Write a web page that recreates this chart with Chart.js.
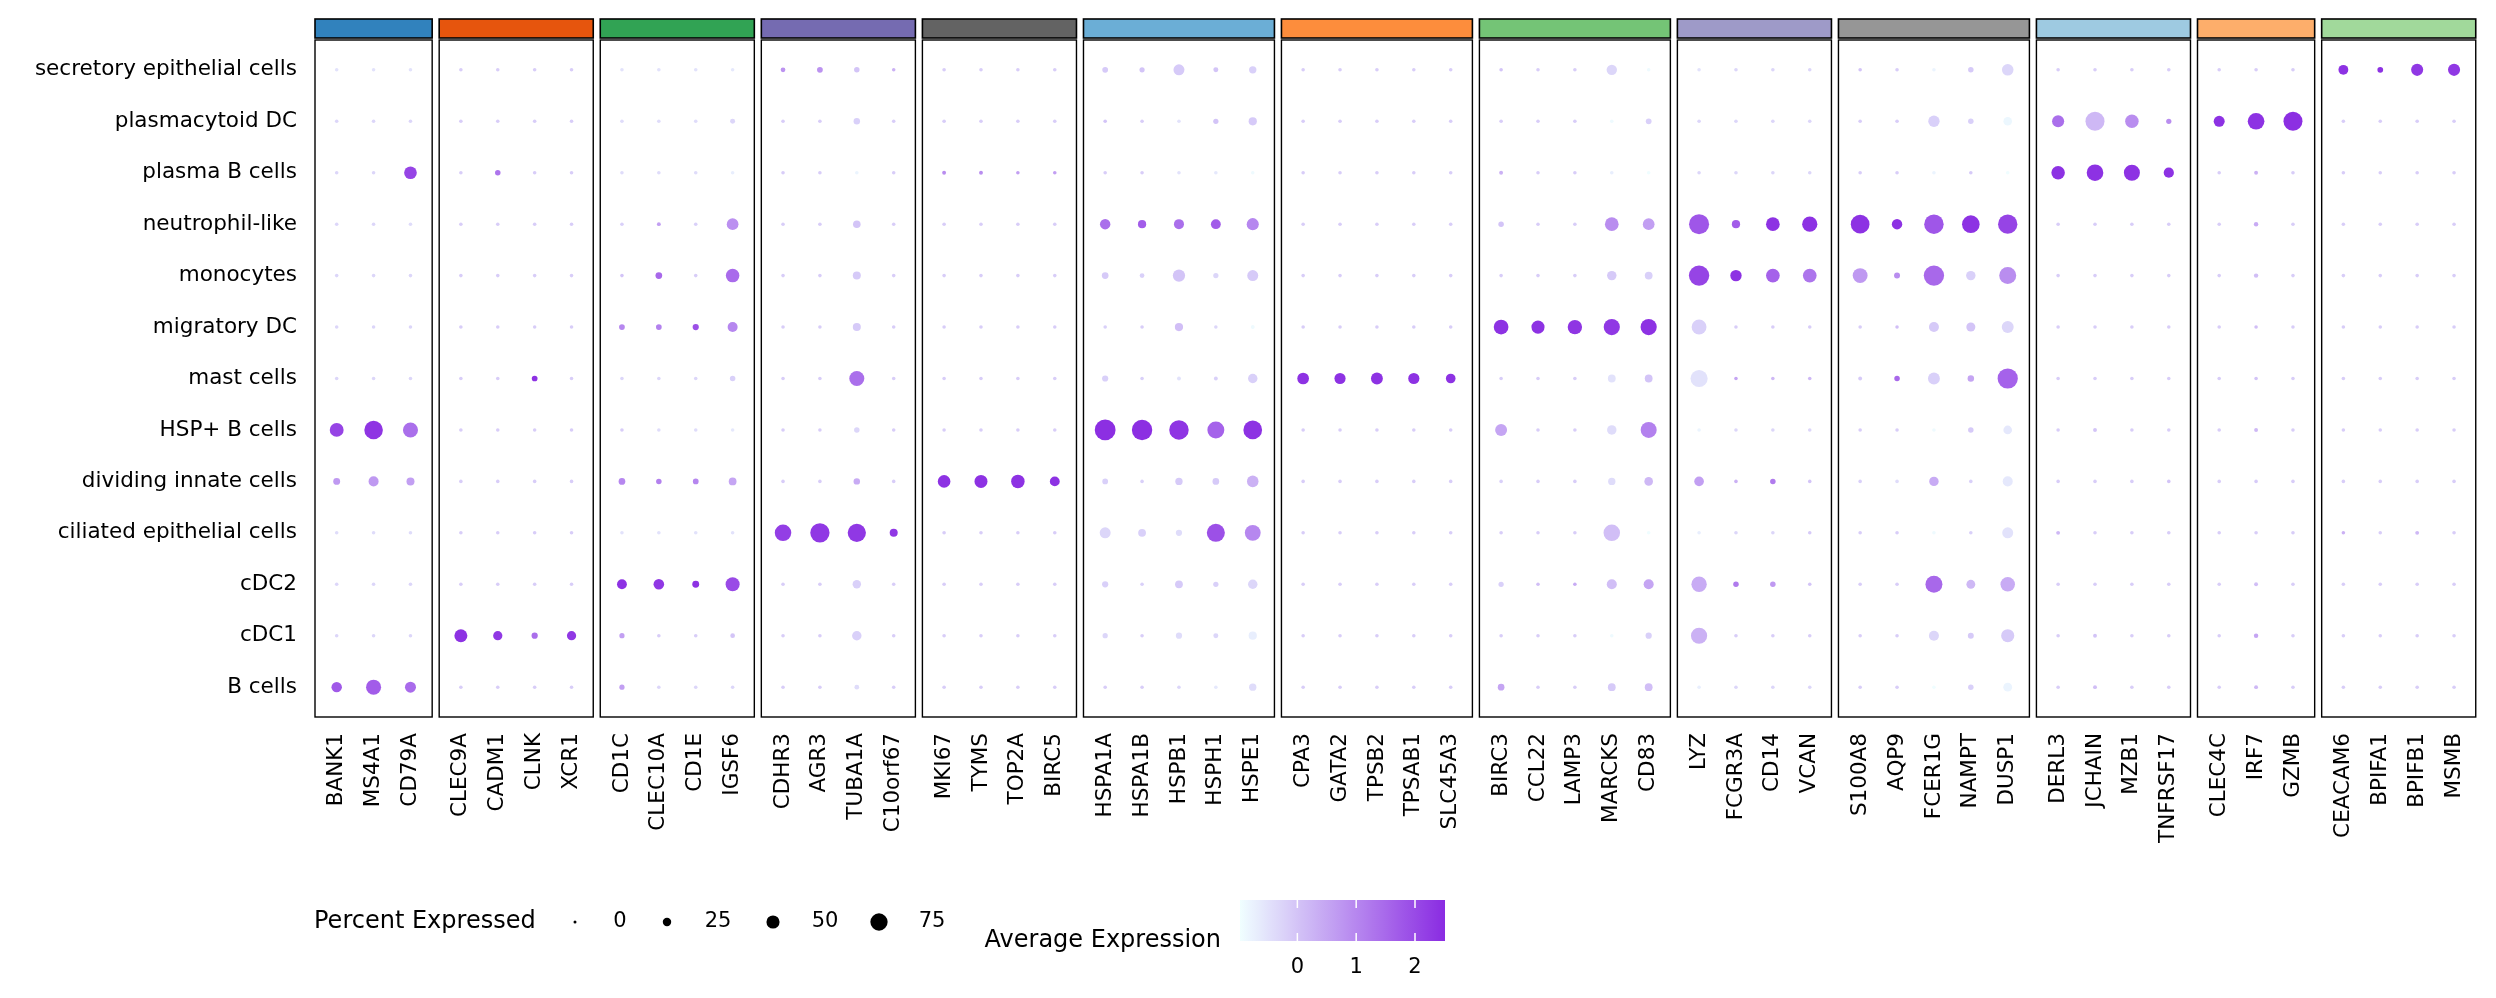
<!DOCTYPE html>
<html>
<head>
<meta charset="utf-8">
<script src="https://cdn.jsdelivr.net/npm/chart.js@4"></script>
<style>
  html, body { margin: 0; padding: 0; background: #fff; }
  #wrap { width: 2496px; height: 998px; }
</style>
</head>
<body>
<div id="wrap"><canvas id="dotplot" width="2496" height="998"></canvas></div>
<script>
// rows, bottom to top
var cellTypes = ["B cells", "cDC1", "cDC2", "ciliated epithelial cells", "dividing innate cells",
  "HSP+ B cells", "mast cells", "migratory DC", "monocytes", "neutrophil-like",
  "plasma B cells", "plasmacytoid DC", "secretory epithelial cells"];

var genes = ["BANK1", "MS4A1", "CD79A",
  "CLEC9A", "CADM1", "CLNK", "XCR1",
  "CD1C", "CLEC10A", "CD1E", "IGSF6",
  "CDHR3", "AGR3", "TUBA1A", "C10orf67",
  "MKI67", "TYMS", "TOP2A", "BIRC5",
  "HSPA1A", "HSPA1B", "HSPB1", "HSPH1", "HSPE1",
  "CPA3", "GATA2", "TPSB2", "TPSAB1", "SLC45A3",
  "BIRC3", "CCL22", "LAMP3", "MARCKS", "CD83",
  "LYZ", "FCGR3A", "CD14", "VCAN",
  "S100A8", "AQP9", "FCER1G", "NAMPT", "DUSP1",
  "DERL3", "JCHAIN", "MZB1", "TNFRSF17",
  "CLEC4C", "IRF7", "GZMB",
  "CEACAM6", "BPIFA1", "BPIFB1", "MSMB"];

var panelSizes = [3, 4, 4, 4, 4, 5, 5, 5, 4, 5, 4, 3, 4];
var panelColors = ["#3182bd", "#e6550d", "#31a354", "#756bb1", "#636363", "#6baed6", "#fd8d3c",
  "#74c476", "#9e9ac8", "#969696", "#9ecae1", "#fdae6b", "#a1d99b"];

// percent expressed, one array per cell type (gene order as above)
var pctBcells    = [35,61,38, 5,5,5,5, 11,5,5,5, 5,5,9,5, 5,5,5,5, 5,5,5,5,20, 5,5,5,5,5, 17,5,5,22,22, 5,5,5,5, 5,5,5,12,27, 5,6,5,5, 5,6,5, 5,5,5,5];
var pctCDC1      = [5,5,5, 49,29,15,29, 11,5,5,9, 5,5,30,5, 5,5,5,5, 11,5,15,10,24, 5,5,5,5,5, 5,5,5,5,15, 68,5,5,5, 5,5,33,14,50, 5,6,5,5, 5,8,5, 5,5,5,5];
var pctCDC2      = [5,5,5, 5,5,5,5, 32,36,18,55, 5,5,25,5, 5,5,5,5, 15,5,22,11,30, 5,5,5,5,5, 11,5,5,33,33, 63,12,12,5, 5,5,73,27,58, 5,5,5,5, 5,6,5, 5,5,5,5];
var pctCiliated  = [5,5,5, 5,5,5,5, 5,5,5,5, 70,88,81,23, 5,5,5,5, 38,22,15,80,66, 5,5,5,5,5, 5,5,5,70,5, 5,5,5,5, 5,5,5,5,38, 6,5,5,5, 5,5,5, 5,5,6,5];
var pctDividing  = [18,33,23, 5,5,5,5, 17,12,13,22, 5,5,16,5, 47,49,52,32, 13,5,20,17,41, 5,5,5,5,5, 5,5,5,20,26, 31,5,12,5, 5,5,30,5,33, 5,5,5,5, 5,5,5, 5,5,5,5];
var pctHSPB      = [54,83,61, 5,5,5,5, 5,5,5,5, 5,5,12,5, 5,5,5,5, 98,95,89,73,84, 5,5,5,5,5, 43,5,5,30,67, 5,5,5,5, 5,5,5,12,26, 5,6,5,5, 5,6,5, 5,5,5,5];
var pctMast      = [5,5,5, 5,5,13,5, 5,5,5,12, 5,5,61,5, 5,5,5,5, 15,5,6,6,30, 42,39,43,39,31, 5,5,5,22,22, 74,5,5,5, 6,12,43,16,94, 5,5,5,5, 5,5,5, 5,5,5,5];
var pctMigDC     = [5,5,5, 5,5,5,5, 13,13,15,33, 5,5,23,5, 5,5,5,5, 5,5,24,5,6, 5,5,5,5,5, 59,50,57,68,68, 60,5,5,5, 5,5,33,28,43, 5,5,5,5, 5,5,5, 5,5,5,5];
var pctMono      = [5,5,5, 5,5,5,5, 5,17,5,52, 5,5,23,5, 5,5,5,5, 17,9,45,11,38, 5,5,5,5,5, 5,5,5,30,22, 95,40,53,53, 60,14,95,30,73, 5,5,5,5, 5,8,5, 5,5,5,5];
var pctNeutro    = [5,5,5, 5,5,5,5, 5,6,5,42, 5,5,21,5, 5,5,5,5, 35,24,33,32,44, 5,5,5,5,5, 12,5,5,53,42, 93,24,53,62, 84,35,89,77,88, 5,5,5,5, 5,8,5, 5,5,5,5];
var pctPlasmaB   = [5,5,47, 5,12,5,5, 5,5,5,5, 5,5,5,5, 6,6,5,5, 5,5,5,5,5, 5,5,5,5,5, 6,5,5,5,5, 5,5,5,5, 5,5,5,5,5, 52,71,67,34, 5,6,5, 5,5,5,5];
var pctPDC       = [5,5,5, 5,5,5,5, 5,5,5,10, 5,5,16,5, 5,5,5,5, 5,5,5,11,24, 5,5,5,5,5, 5,5,5,5,13, 5,5,5,5, 5,5,40,12,26, 44,86,52,11, 38,71,86, 5,5,5,5];
var pctSecretory = [5,5,5, 5,5,5,5, 5,5,5,5, 9,13,12,5, 5,5,5,5, 13,11,38,10,20, 5,5,5,5,5, 5,5,5,35,5, 5,5,5,5, 5,5,5,12,41, 5,5,5,5, 5,5,5, 32,13,44,44];

// average expression (scaled), one array per cell type
var avgBcells    = [1.75,1.7,1.45, -0.15,-0.15,-0.15,-0.15, 0.6,-0.3,-0.3,-0.3, -0.15,-0.15,-0.4,-0.15, -0.15,-0.15,-0.15,-0.15, -0.15,-0.15,-0.3,-0.6,-0.4, -0.15,-0.15,-0.15,-0.15,-0.15, 0.5,-0.15,-0.15,-0.1,0.1, -0.7,-0.3,-0.3,-0.3, -0.15,-0.15,-0.95,-0.2,-0.8, -0.15,0.1,-0.15,-0.15, -0.15,0.2,-0.15, -0.15,-0.15,-0.15,-0.15];
var avgCDC1      = [-0.3,-0.3,-0.3, 2.4,2.3,1.4,2.3, 0.6,-0.15,-0.15,0.0, -0.15,-0.15,-0.2,-0.15, -0.15,-0.15,-0.15,-0.15, -0.3,-0.15,-0.4,-0.3,-0.7, -0.15,-0.15,-0.15,-0.15,-0.15, -0.15,-0.15,-0.15,-0.9,-0.2, 0.3,-0.15,-0.15,-0.15, -0.15,-0.15,-0.3,-0.1,-0.1, -0.15,0.0,-0.15,-0.15, -0.15,0.5,-0.15, -0.15,-0.15,-0.15,-0.15];
var avgCDC2      = [-0.3,-0.3,-0.3, -0.15,-0.15,-0.15,-0.15, 2.4,2.3,2.4,2.0, -0.15,-0.15,-0.2,-0.15, -0.15,-0.15,-0.15,-0.15, -0.2,-0.2,-0.1,-0.2,-0.3, -0.15,-0.15,-0.15,-0.15,-0.15, -0.2,0.1,0.4,0.1,0.5, 0.4,1.2,0.7,0.0, -0.15,-0.15,1.5,0.2,0.4, -0.15,-0.15,-0.15,-0.15, -0.15,0.1,-0.15, -0.15,-0.15,-0.15,-0.15];
var avgCiliated  = [-0.4,-0.4,-0.4, -0.15,-0.15,-0.15,-0.15, -0.5,-0.5,-0.5,-0.5, 2.2,2.3,2.3,2.3, -0.15,-0.15,-0.15,-0.15, -0.3,-0.2,-0.4,1.9,1.0, -0.15,-0.15,-0.15,-0.15,-0.15, -0.15,-0.15,-0.15,0.1,-0.95, -0.7,-0.3,-0.3,-0.1, -0.15,-0.15,-0.9,-0.2,-0.5, 0.2,-0.15,-0.15,-0.15, -0.15,-0.15,-0.15, 0.3,-0.15,0.2,-0.15];
var avgDividing  = [0.7,0.7,0.6, -0.15,-0.15,-0.15,-0.15, 1.0,1.1,1.0,0.5, -0.15,-0.15,0.4,-0.15, 2.4,2.4,2.4,2.4, -0.2,-0.2,-0.1,-0.1,0.3, -0.15,-0.15,-0.15,-0.15,-0.15, -0.2,-0.15,-0.15,-0.4,0.2, 0.6,0.3,1.2,0.0, -0.2,-0.4,0.4,-0.2,-0.6, -0.15,-0.15,-0.15,0.0, -0.15,-0.1,-0.15, -0.15,-0.15,-0.15,-0.15];
var avgHSPB      = [2.1,2.35,1.4, -0.15,-0.15,-0.15,-0.15, -0.15,-0.4,-0.4,-0.6, -0.15,-0.15,-0.3,-0.15, -0.15,-0.15,-0.15,-0.15, 2.45,2.45,2.35,1.6,2.4, -0.15,-0.15,-0.15,-0.15,-0.15, 0.5,-0.15,-0.15,-0.4,1.1, -0.8,-0.3,-0.3,-0.3, -0.15,-0.15,-0.9,-0.1,-0.6, -0.15,0.0,-0.15,-0.15, -0.15,0.2,-0.15, -0.15,-0.15,-0.15,-0.15];
var avgMast      = [-0.3,-0.3,-0.3, -0.15,-0.15,2.4,-0.15, -0.3,-0.3,-0.3,-0.2, -0.15,-0.15,1.4,-0.15, -0.15,-0.15,-0.15,-0.15, -0.2,-0.2,-0.5,-0.2,-0.2, 2.4,2.4,2.4,2.4,2.4, -0.15,-0.15,-0.15,-0.5,0.0, -0.5,0.5,0.2,0.2, -0.1,1.5,-0.2,0.5,1.6, -0.15,-0.15,-0.15,-0.15, -0.15,0.0,-0.15, -0.15,-0.15,-0.15,-0.15];
var avgMigDC     = [-0.3,-0.3,-0.3, -0.15,-0.15,-0.15,-0.15, 1.0,1.1,1.9,1.0, -0.15,-0.15,-0.1,-0.15, -0.15,-0.15,-0.15,-0.15, -0.2,-0.15,0.1,-0.3,-0.9, -0.15,-0.15,-0.15,-0.15,-0.15, 2.4,2.4,2.35,2.3,2.4, -0.2,-0.15,-0.15,-0.15, -0.15,0.1,-0.1,0.0,-0.3, -0.15,-0.15,-0.15,-0.15, -0.15,0.1,-0.15, -0.15,-0.15,-0.15,-0.15];
var avgMono      = [-0.3,-0.3,-0.3, -0.15,-0.15,-0.15,-0.15, 0.0,1.5,-0.15,1.45, -0.15,-0.15,-0.1,-0.15, -0.15,-0.15,-0.15,-0.15, -0.1,-0.2,0.0,-0.3,-0.1, -0.15,-0.15,-0.15,-0.15,-0.15, -0.15,-0.15,-0.15,-0.1,-0.2, 2.1,2.4,1.6,1.3, 0.7,0.9,1.5,-0.2,0.9, -0.15,-0.15,-0.15,-0.15, -0.15,0.1,-0.15, -0.15,-0.15,-0.15,-0.15];
var avgNeutro    = [-0.3,-0.3,-0.4, -0.15,-0.15,-0.15,-0.15, -0.2,0.6,-0.2,0.85, -0.15,-0.15,0.0,-0.15, -0.15,-0.15,-0.15,-0.15, 1.4,1.7,1.4,1.7,1.0, -0.15,-0.15,-0.15,-0.15,-0.15, 0.0,-0.15,-0.15,0.9,0.6, 1.8,1.7,2.4,2.4, 2.4,2.4,1.8,2.4,2.1, -0.15,-0.15,-0.15,-0.15, -0.15,0.4,-0.15, -0.15,-0.15,-0.15,-0.15];
var avgPlasmaB   = [-0.3,-0.3,2.1, -0.15,1.3,-0.15,-0.15, -0.4,-0.4,-0.4,-0.7, -0.15,-0.15,-0.8,-0.15, 0.9,0.9,0.6,0.6, -0.15,-0.15,-0.5,-0.6,-0.9, -0.15,-0.15,-0.15,-0.15,-0.15, 0.3,-0.15,-0.15,-0.7,-0.95, -0.3,-0.3,-0.3,-0.3, -0.15,-0.15,-0.8,-0.1,-0.95, 2.4,2.4,2.4,2.4, -0.15,0.3,-0.15, -0.15,-0.15,-0.15,-0.15];
var avgPDC       = [-0.3,-0.3,-0.3, -0.15,-0.15,-0.15,-0.15, -0.4,-0.4,-0.4,-0.3, -0.15,-0.15,-0.2,-0.15, -0.15,-0.15,-0.15,-0.15, 0.0,-0.15,-0.5,0.0,-0.1, -0.15,-0.15,-0.15,-0.15,-0.15, -0.15,-0.15,-0.15,-0.9,-0.2, -0.3,-0.3,-0.3,-0.3, -0.15,-0.15,-0.2,-0.2,-0.85, 1.4,0.2,0.9,0.9, 2.4,2.4,2.45, -0.15,-0.15,-0.15,-0.15];
var avgSecretory = [-0.5,-0.5,-0.5, -0.15,-0.15,-0.15,-0.15, -0.5,-0.5,-0.5,-0.6, 0.8,0.8,0.0,0.3, -0.15,-0.15,-0.15,-0.15, -0.1,0.0,-0.1,0.0,-0.2, -0.15,-0.15,-0.15,-0.15,-0.15, 0.0,-0.15,-0.15,-0.3,-0.9, -0.5,-0.3,-0.3,-0.3, 0.0,-0.15,-0.8,-0.1,-0.3, -0.15,-0.15,-0.15,-0.15, -0.15,-0.15,-0.15, 2.4,2.4,2.3,2.3];

var pctRows = [pctBcells, pctCDC1, pctCDC2, pctCiliated, pctDividing, pctHSPB, pctMast,
  pctMigDC, pctMono, pctNeutro, pctPlasmaB, pctPDC, pctSecretory];
var avgRows = [avgBcells, avgCDC1, avgCDC2, avgCiliated, avgDividing, avgHSPB, avgMast,
  avgMigDC, avgMono, avgNeutro, avgPlasmaB, avgPDC, avgSecretory];

var sizeLegendValues = [0, 25, 50, 75];
var colorTicks = [0, 1, 2];
var vMin = -0.975, vMax = 2.51;

var FONT = '"DejaVu Sans", "Liberation Sans", sans-serif';
var AXIS_FONT = 21.5;

// x positions of genes, with a small gap between groups
var PAD = 0.088, GAP = 0.19;
var genePos = [];
var panelSpans = [];
var cur = 0;
panelSizes.forEach(function (n) {
  var first = cur;
  for (var i = 0; i < n; i++) { genePos.push(cur); cur += 1; }
  panelSpans.push([first - 0.5 - PAD, cur - 1 + 0.5 + PAD]);
  cur += 2 * PAD + GAP;
});

function exprColor(v) {
  var t = (v - vMin) / (vMax - vMin);
  t = Math.max(0, Math.min(1, t));
  var c0 = [240, 255, 255], c1 = [138, 43, 226];
  var r = Math.round(c0[0] + (c1[0] - c0[0]) * t);
  var g = Math.round(c0[1] + (c1[1] - c0[1]) * t);
  var b = Math.round(c0[2] + (c1[2] - c0[2]) * t);
  return 'rgb(' + r + ',' + g + ',' + b + ')';
}

function dotRadius(p) {
  return 0.75 + 0.31 * Math.pow(p, 0.75);
}

var points = [];
for (var r = 0; r < cellTypes.length; r++) {
  for (var g = 0; g < genes.length; g++) {
    points.push({ x: genePos[g], y: r, pct: pctRows[r][g], avg: avgRows[r][g] });
  }
}

var panelPlugin = {
  id: 'panels',
  beforeDatasetsDraw: function (chart) {
    var c = chart.ctx, xs = chart.scales.x, area = chart.chartArea;
    c.save();
    panelSpans.forEach(function (sp, k) {
      var x0 = xs.getPixelForValue(sp[0]), x1 = xs.getPixelForValue(sp[1]);
      // group colour bar
      c.fillStyle = panelColors[k];
      c.fillRect(x0, area.top - 21, x1 - x0, 19);
      c.strokeStyle = '#000';
      c.lineWidth = 1.6;
      c.strokeRect(x0, area.top - 21, x1 - x0, 19);
      // frame
      c.lineWidth = 1.4;
      c.strokeRect(x0, area.top, x1 - x0, area.bottom - area.top);
    });
    c.restore();
  },
  afterDraw: function (chart) {
    var c = chart.ctx;
    c.save();
    c.fillStyle = '#000';
    c.textBaseline = 'middle';

    // size legend
    var ly = 922;
    c.font = '24px ' + FONT;
    c.textAlign = 'left';
    c.fillText('Percent Expressed', 314, ly);
    var dotX = [575, 667, 773, 879];
    var labX = [620, 718, 825, 932];
    c.font = '21px ' + FONT;
    sizeLegendValues.forEach(function (v, i) {
      c.beginPath();
      c.arc(dotX[i], ly, Math.max(1.5, dotRadius(v)), 0, Math.PI * 2);
      c.fill();
      c.textAlign = 'center';
      c.fillText(String(v), labX[i], ly);
    });

    // colour bar
    var bx0 = 1240, bx1 = 1445, by0 = 900, by1 = 941;
    var grad = c.createLinearGradient(bx0, 0, bx1, 0);
    for (var s = 0; s <= 20; s++) {
      grad.addColorStop(s / 20, exprColor(vMin + (vMax - vMin) * s / 20));
    }
    c.fillStyle = grad;
    c.fillRect(bx0, by0, bx1 - bx0, by1 - by0);
    c.strokeStyle = '#fff';
    c.lineWidth = 1.5;
    c.fillStyle = '#000';
    colorTicks.forEach(function (v) {
      var tx = bx0 + (v - vMin) / (vMax - vMin) * (bx1 - bx0);
      c.beginPath();
      c.moveTo(tx, by0); c.lineTo(tx, by0 + 8);
      c.moveTo(tx, by1 - 8); c.lineTo(tx, by1);
      c.stroke();
      c.textAlign = 'center';
      c.fillText(String(v), tx, 968);
    });
    c.font = '24px ' + FONT;
    c.textAlign = 'right';
    c.fillText('Average Expression', 1221, 941);
    c.restore();
  }
};

var ctx = document.getElementById('dotplot').getContext('2d');
var chart = new Chart(ctx, {
  type: 'scatter',
  data: {
    datasets: [{
      data: points,
      pointRadius: function (c) { return dotRadius(c.raw.pct); },
      pointHoverRadius: function (c) { return dotRadius(c.raw.pct); },
      backgroundColor: function (c) { return exprColor(c.raw.avg); },
      borderWidth: 0,
      pointBorderWidth: 0
    }]
  },
  options: {
    responsive: false,
    animation: false,
    events: [],
    layout: { padding: { top: 40, right: 15, left: 0, bottom: 0 } },
    plugins: { legend: { display: false }, tooltip: { enabled: false } },
    scales: {
      x: {
        type: 'linear',
        min: panelSpans[0][0],
        max: panelSpans[panelSpans.length - 1][1],
        grid: { display: false, drawTicks: false },
        border: { display: false },
        afterBuildTicks: function (s) { s.ticks = genePos.map(function (v) { return { value: v }; }); },
        afterFit: function (s) { s.height = 281; },
        ticks: {
          autoSkip: false, minRotation: 90, maxRotation: 90, padding: 16, color: '#000',
          font: { family: FONT, size: AXIS_FONT },
          callback: function (v, i) { return genes[i]; }
        }
      },
      y: {
        type: 'linear',
        min: -0.58,
        max: 12.58,
        grid: { display: false, drawTicks: false },
        border: { display: false },
        afterBuildTicks: function (s) { s.ticks = cellTypes.map(function (n, i) { return { value: i }; }); },
        afterFit: function (s) { s.width = 315; },
        ticks: {
          padding: 18, color: '#000',
          font: { family: FONT, size: AXIS_FONT },
          callback: function (v, i) { return cellTypes[i]; }
        }
      }
    }
  },
  plugins: [panelPlugin]
});
</script>
</body>
</html>
